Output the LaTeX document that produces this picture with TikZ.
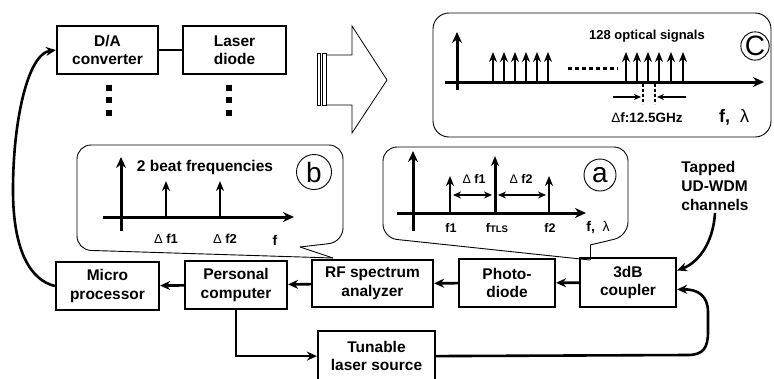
\documentclass[tikz,border=0pt]{standalone}
\usepackage{fontspec}
\setmainfont{Liberation Sans}
\usetikzlibrary{arrows.meta}
\begin{document}
\begin{tikzpicture}[x=1pt,y=-1pt,
 box/.style={draw,line width=2.2pt,inner sep=0pt,align=center,font=\fontsize{15.5}{18.5}\selectfont\bfseries},
 conn/.style={line width=2.6pt,-{Stealth[length=10pt,width=9pt]}},
 bubble/.style={line width=0.9pt},
 ax/.style={line width=3pt,-{Stealth[length=11pt,width=10pt]}},
 sig/.style={line width=2.6pt,-{Stealth[length=10pt,width=8pt]}},
 lab/.style={font=\fontsize{12.5}{14}\selectfont\bfseries,inner sep=0pt},
 circlab/.style={circle,draw,line width=0.9pt,inner sep=0pt,font=\fontsize{28}{28}\selectfont}]
\useasboundingbox (0,0) rectangle (774,378);

% ---------- boxes ----------
\node[box,minimum width=101pt,minimum height=48pt] (da) at (107.5,50) {D/A\\converter};
\node[box,minimum width=103pt,minimum height=48pt] (ld) at (234.5,50) {Laser\\diode};
\node[box,minimum width=103pt,minimum height=48pt] (micro) at (107.5,286) {Micro\\processor};
\node[box,minimum width=102pt,minimum height=48pt] (pc) at (236,285) {Personal\\computer};
\node[box,minimum width=121pt,minimum height=47pt] (rf) at (372.5,283.5) {RF spectrum\\analyzer};
\node[box,minimum width=96pt,minimum height=48pt] (pd) at (507,283) {Photo-\\diode};
\node[box,minimum width=96pt,minimum height=49pt] (cp) at (628,282.5) {3dB\\coupler};
\node[box,minimum width=117pt,minimum height=50pt,anchor=north] (tls) at (376.5,330) {Tunable\\laser source};
\node[align=left,inner sep=2pt,font=\fontsize{15.5}{19}\selectfont\bfseries] (tap) at (715,186) {Tapped\\UD-WDM\\channels};

% vertical dots
\foreach \y in {87.5,99.5,112.5}{
  \fill (105.5,\y-3) rectangle (111.5,\y+3);
  \fill (226,\y-3) rectangle (232,\y+3);
}

% big hollow arrow
\draw[line width=0.8pt] (327,55) -- (352,55) -- (352,26) -- (387,80) -- (352,133) -- (352,105) -- (327,105);
\draw[line width=0.6pt] (317,53) rectangle (320,105) (322,53) rectangle (326,105);

% ---------- bubble c ----------
\draw[bubble,rounded corners=16pt] (433,13) rectangle (771,137);
\draw[ax] (457,90) -- (457,32);
\draw[ax] (445,82) -- (764,82);
\foreach \x in {493,504,515,526,537,548,626,637,648,659,671,683}
  \draw[sig] (\x,83) -- (\x,52);
\draw[line width=3pt,dash pattern=on 4pt off 3pt] (568,68) -- (618,68);
\draw[line width=1.3pt,dash pattern=on 3pt off 2pt] (643,84) -- (643,104);
\draw[line width=1.3pt,dash pattern=on 3pt off 2pt] (655,84) -- (655,104);
\draw[line width=1.6pt,-{Stealth[length=7pt,width=6pt]}] (613,97) -- (641,97);
\draw[line width=1.6pt,-{Stealth[length=7pt,width=6pt]}] (686,97) -- (657,97);
\node[lab,font=\fontsize{13}{14}\selectfont\bfseries] (t128) at (647,36) {128 optical signals};
\node[lab,font=\fontsize{13.5}{14}\selectfont\bfseries] (tdf) at (647,118) {{\mdseries Δ}f:12.5GHz};
\node[lab,font=\fontsize{18}{18}\selectfont\bfseries] (tfl) at (734,117) {f,\ \ {\mdseries λ}};
\node[circlab,minimum size=28pt] (cc) at (755,46) {C};

% ---------- bubble b ----------
\draw[bubble,rounded corners=14pt] (333,258) -- (77,250) -- (77,145) -- (343,145) -- (343,242) -- (300,247);
\draw[bubble] (300,247) -- (333,258);
\draw[ax] (121,231) -- (121,157);
\draw[ax] (103,217) -- (294,217);
\draw[sig] (166,218) -- (166,181);
\draw[sig] (220,218) -- (220,181);
\node[lab,font=\fontsize{15.5}{16}\selectfont\bfseries] (tbeat) at (205,167) {2 beat frequencies};
\node[circlab,minimum size=35pt] (cb) at (314,172) {b};
\node[lab,font=\fontsize{13}{14}\selectfont\bfseries] (bf1) at (166,239) {{\mdseries Δ} f1};
\node[lab,font=\fontsize{13}{14}\selectfont\bfseries] (bf2) at (225,239) {{\mdseries Δ} f2};
\node[lab,font=\fontsize{14}{14}\selectfont\bfseries] (bf) at (275,240) {f};

% ---------- bubble a ----------
\draw[bubble,rounded corners=14pt] (590,260) -- (383,238) -- (383,147) -- (628,147) -- (628,236) -- (590,245);
\draw[bubble] (590,245) -- (590,260);
\draw[ax] (413,231) -- (413,151);
\draw[ax] (397,213) -- (586,213);
\draw[sig] (450,214) -- (450,176);
\draw[sig,line width=3pt] (495,214) -- (495,156);
\draw[sig] (549,214) -- (549,176);
\draw[line width=2pt,{Stealth[length=8pt,width=7pt]}-{Stealth[length=8pt,width=7pt]}] (453,195) -- (492,195);
\draw[line width=2pt,{Stealth[length=8pt,width=7pt]}-{Stealth[length=8pt,width=7pt]}] (498,195) -- (546,195);
\node[lab] (af1) at (474,179) {{\mdseries Δ} f1};
\node[lab] (af2) at (521,179) {{\mdseries Δ} f2};
\node[lab] (lf1) at (451,228) {f1};
\node[lab] (lft) at (497,228) {f{\fontsize{9.5}{9}\selectfont TLS}};
\node[lab] (lf2) at (550,228) {f2};
\node[lab,font=\fontsize{14}{14}\selectfont\bfseries] (lfl) at (598,228) {f,\ \ {\mdseries λ}};
\node[circlab,minimum size=32pt] (ca) at (600,175) {a};

% ---------- connectors ----------
\draw[line width=2.2pt] (da) -- (ld);
\draw[conn] (cp) -- (pd);
\draw[conn] (pd) -- (rf);
\draw[conn] (rf) -- (pc);
\draw[conn] (pc) -- (micro);
\draw[conn] (micro.west) .. controls (30,280) and (13,250) .. (13,190)
   .. controls (13,120) and (28,54) .. (da.west);
\draw[conn] (pc.south) |- (tls.west);
\draw[conn] (tls.east) -- (688,355) .. controls (703,355) and (708,348) .. (708,332)
   -- (708,312) .. controls (708,296) and (698,289) .. ([yshift=-7pt]cp.east);
\draw[conn] (tap.south) .. controls (713,245) and (697,263) .. ([yshift=12pt]cp.east);
\end{tikzpicture}
\end{document}
